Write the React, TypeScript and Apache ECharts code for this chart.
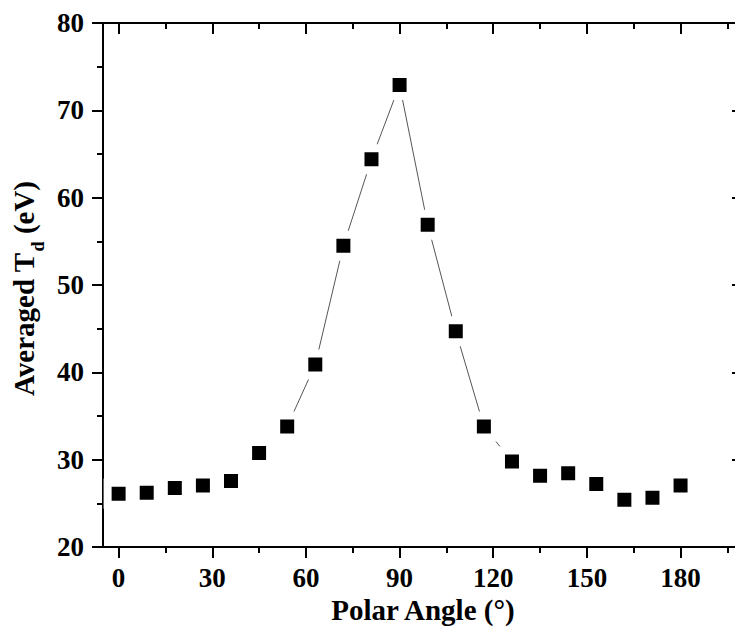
import React, { useEffect, useRef } from "react";
import * as echarts from "echarts";

const polarAngle = [0, 9, 18, 27, 36, 45, 54, 63, 72, 81, 90, 99, 108, 117, 126, 135, 144, 153, 162, 171, 180];
const averagedTd = [26.1, 26.2, 26.75, 27.05, 27.55, 30.75, 33.8, 40.9, 54.5, 64.4, 72.9, 56.9, 44.7, 33.8, 29.8, 28.15, 28.45, 27.2, 25.4, 25.65, 27.05];
const xMajorTicks = [0, 30, 60, 90, 120, 150, 180];
const xMinorTicks = [15, 45, 75, 105, 135, 165, 195];
const xName = "Polar Angle (°)";
const yNameMain = "Averaged T";
const yNameSub = "d";
const yNameUnit = " (eV)";

const FONT = "Liberation Serif";

function measure(text: string, font: string): number {
  const c = document.createElement("canvas").getContext("2d");
  if (!c) return text.length * 14;
  c.font = font;
  return c.measureText(text).width;
}

export default function App() {
  const ref = useRef<HTMLDivElement>(null);
  useEffect(() => {
    if (!ref.current) return;
    const chart = echarts.init(ref.current, undefined, { renderer: "svg" });
    const axisLineStyle = { color: "#000", width: 2 };
    const labelStyle = { fontFamily: FONT, fontWeight: "bold" as const, fontSize: 27, color: "#000" };
    const baseX = { type: "value" as const, min: -5, max: 200, splitLine: { show: false }, gridIndex: 0 };
    const baseY = { type: "value" as const, min: 20, max: 80, interval: 10, splitLine: { show: false }, gridIndex: 0 };

    const mainFont = "bold 29px " + FONT;
    const subFont = "bold 18px " + FONT;
    const w1 = measure(yNameMain, mainFont);
    const w2 = measure(yNameSub, subFont);
    const w3 = measure(yNameUnit, mainFont);
    const total = w1 + w2 + w3;
    const start = -total / 2;
    const textCommon = { fill: "#000", align: "left", textAlign: "left", verticalAlign: "middle", textVerticalAlign: "middle" };

    chart.setOption({
      animation: false,
      backgroundColor: "#fff",
      grid: { left: 103, top: 23, right: -8, bottom: 97, containLabel: false, outerBoundsMode: "none" },
      graphic: [
        {
          type: "group",
          x: 24,
          y: 289,
          rotation: Math.PI / 2,
          children: [
            { type: "text", x: start, y: 0, style: { ...textCommon, text: yNameMain, font: mainFont } },
            { type: "text", x: start + w1 + 1, y: 14, style: { ...textCommon, text: yNameSub, font: subFont } },
            { type: "text", x: start + w1 + w2 + 1, y: 0, style: { ...textCommon, text: yNameUnit, font: mainFont } },
          ],
        },
      ],
      xAxis: [
        {
          ...baseX,
          position: "bottom",
          axisLine: { show: true, onZero: false, lineStyle: axisLineStyle },
          axisTick: { show: true, inside: false, length: 11, lineStyle: axisLineStyle, customValues: xMajorTicks },
          axisLabel: { ...labelStyle, margin: 17, customValues: xMajorTicks },
          name: xName,
          nameLocation: "middle",
          nameGap: 45,
          nameTextStyle: { fontFamily: FONT, fontWeight: "bold", fontSize: 29, color: "#000" },
        },
        {
          ...baseX,
          position: "bottom",
          axisLine: { show: false, onZero: false },
          axisTick: { show: true, inside: false, length: 6, lineStyle: axisLineStyle, customValues: xMinorTicks },
          axisLabel: { show: false },
        },
        {
          ...baseX,
          position: "top",
          axisLine: { show: true, onZero: false, lineStyle: axisLineStyle },
          axisTick: { show: true, inside: true, length: 11, lineStyle: axisLineStyle, customValues: xMajorTicks },
          axisLabel: { show: false },
        },
        {
          ...baseX,
          position: "top",
          axisLine: { show: false, onZero: false },
          axisTick: { show: true, inside: true, length: 6, lineStyle: axisLineStyle, customValues: xMinorTicks },
          axisLabel: { show: false },
        },
      ],
      yAxis: [
        {
          ...baseY,
          position: "left",
          axisLine: { show: true, onZero: false, lineStyle: axisLineStyle },
          axisTick: { show: true, inside: false, length: 11, lineStyle: axisLineStyle },
          minorTick: { show: true, splitNumber: 2, length: 6, lineStyle: axisLineStyle },
          axisLabel: { ...labelStyle, margin: 19 },
        },
        {
          ...baseY,
          position: "right",
          axisLine: { show: true, onZero: false, lineStyle: axisLineStyle },
          axisTick: { show: true, inside: true, length: 11, lineStyle: axisLineStyle },
          minorTick: { show: false },
          axisLabel: { show: false },
        },
      ],
      series: [
        {
          type: "line",
          xAxisIndex: 0,
          yAxisIndex: 0,
          data: polarAngle.map((x, i) => [x, averagedTd[i]]),
          symbol: "rect",
          symbolSize: 22,
          showAllSymbol: true,
          itemStyle: { color: "#000", borderColor: "#fff", borderWidth: 8 },
          lineStyle: { color: "#555", width: 1 },
          emphasis: { disabled: true },
        },
      ],
    });
    return () => chart.dispose();
  }, []);
  return <div ref={ref} style={{ position: "fixed", left: 0, top: 0, width: 735, height: 644 }} />;
}
